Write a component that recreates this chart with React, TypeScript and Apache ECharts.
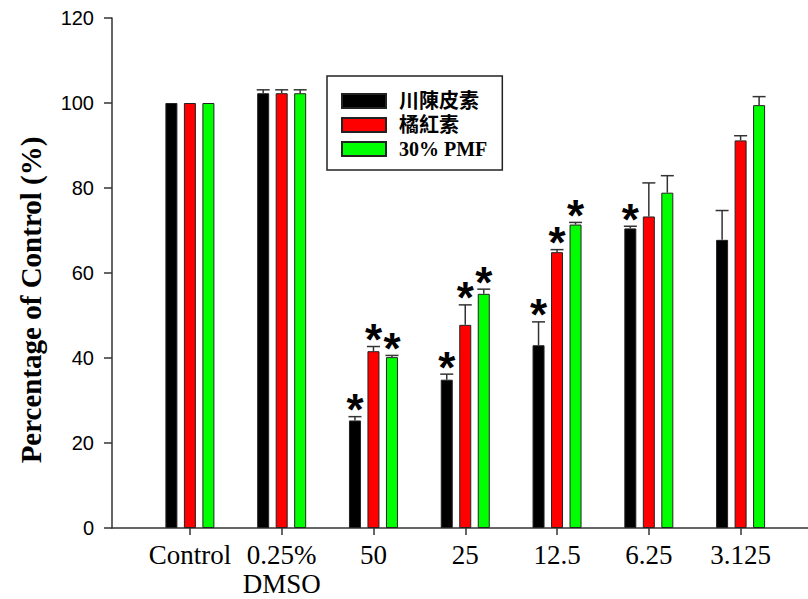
import React, { useEffect, useRef } from "react";
import * as echarts from "echarts";

const categories = ["Control", "0.25%\nDMSO", "50", "25", "12.5", "6.25", "3.125"];
const seriesNames = ["川陳皮素", "橘紅素", "30% PMF"];
const nobiletin = [100, 102.3, 25.3, 34.9, 43.0, 70.5, 67.8];
const nobiletinErr = [0, 0.8, 0.9, 1.3, 5.5, 0.5, 6.9];
const nobiletinSig = [0, 0, 1, 1, 1, 1, 0];
const tangeretin = [100, 102.3, 41.6, 47.8, 64.9, 73.3, 91.2];
const tangeretinErr = [0, 0.8, 1.1, 4.7, 0.6, 7.9, 1.1];
const tangeretinSig = [0, 0, 1, 1, 1, 0, 0];
const pmf = [100, 102.3, 40.2, 55.1, 71.4, 78.9, 99.5];
const pmfErr = [0, 0.8, 0.4, 1.1, 0.5, 4.0, 2.0];
const pmfSig = [0, 0, 1, 1, 1, 0, 0];
const yTicks = { min: 0, max: 120, interval: 20 };

const colors = ["#000000", "#ff0000", "#00ff00"];
const BAR_W = 12;
const BAR_GAP = 6.5;

export default function App() {
  const ref = useRef<HTMLDivElement>(null);
  useEffect(() => {
    if (!ref.current) return;
    const chart = echarts.init(ref.current, null, { renderer: "svg" });
    const values = [nobiletin, tangeretin, pmf];
    const errs = [nobiletinErr, tangeretinErr, pmfErr];
    const sigs = [nobiletinSig, tangeretinSig, pmfSig];
    const offsets = [-(BAR_W + BAR_GAP), 0, BAR_W + BAR_GAP];

    const barSeries = values.map((vals, k) => ({
      name: seriesNames[k],
      type: "bar",
      xAxisIndex: 0,
      yAxisIndex: 0,
      data: vals,
      barWidth: BAR_W,
      barGap: (BAR_GAP / BAR_W) * 100 + "%",
      itemStyle: { color: colors[k], borderColor: "#222", borderWidth: 1 },
      z: 2,
    }));

    const errSeries = values.map((vals, k) => ({
      name: "err" + k,
      type: "custom",
      xAxisIndex: 0,
      yAxisIndex: 0,
      z: 3,
      encode: { x: 0, y: 1 },
      data: vals.map((v, i) => [i, v, errs[k][i], sigs[k][i]]),
      renderItem: (params: any, api: any) => {
        const i = api.value(0);
        const v = api.value(1);
        const e = api.value(2);
        const s = api.value(3);
        const base = api.coord([i, v]);
        const top = api.coord([i, v + e]);
        const x = base[0] + offsets[k];
        const children: any[] = [];
        if (e > 0) {
          children.push({
            type: "line",
            shape: { x1: x, y1: base[1], x2: x, y2: top[1] },
            style: { stroke: "#333", lineWidth: 1.5 },
          });
          children.push({
            type: "line",
            shape: { x1: x - 6.5, y1: top[1], x2: x + 6.5, y2: top[1] },
            style: { stroke: "#333", lineWidth: 1.5 },
          });
        }
        if (s) {
          children.push({
            type: "text",
            x: x,
            y: top[1] - 7,
            style: {
              text: "*",
              fontSize: 44,
              fontWeight: "bold",
              fontFamily: "Liberation Sans",
              fill: "#000",
              align: "center",
              verticalAlign: "middle",
            },
          });
        }
        return { type: "group", children };
      },
    }));

    chart.setOption({
      animation: false,
      backgroundColor: "#fff",
      grid: [
        { left: 144, right: 21.5, top: 18, bottom: 71 },
        { left: 112, right: 0, top: 18, bottom: 71 },
      ],
      xAxis: [
        {
          type: "category",
          gridIndex: 0,
          data: categories,
          axisLine: { show: false },
          axisTick: { show: true, alignWithLabel: true, interval: 0, length: 7, lineStyle: { color: "#333", width: 1.5 } },
          axisLabel: {
            interval: 0,
            color: "#000",
            fontFamily: "Liberation Serif",
            fontSize: 27,
            lineHeight: 29,
            margin: 12,
          },
        },
        {
          type: "value",
          gridIndex: 1,
          min: 0,
          max: 1,
          axisLine: { show: true, lineStyle: { color: "#333", width: 1.5 } },
          axisTick: { show: false },
          axisLabel: { show: false },
          splitLine: { show: false },
        },
      ],
      yAxis: [
        {
          type: "value",
          gridIndex: 0,
          min: yTicks.min,
          max: yTicks.max,
          interval: yTicks.interval,
          show: false,
          splitLine: { show: false },
        },
        {
          type: "value",
          gridIndex: 1,
          min: yTicks.min,
          max: yTicks.max,
          interval: yTicks.interval,
          axisLine: { show: true, lineStyle: { color: "#333", width: 1.5 } },
          axisTick: { show: true, length: 8, lineStyle: { color: "#333", width: 1.5 } },
          axisLabel: { color: "#000", fontFamily: "Liberation Sans", fontSize: 20, margin: 18 },
          splitLine: { show: false },
        },
      ],
      legend: {
        data: seriesNames,
        orient: "vertical",
        left: 327,
        top: 76,
        itemWidth: 44,
        itemHeight: 14,
        itemGap: 4,
        padding: [15, 15, 11, 14],
        borderColor: "#222",
        borderWidth: 1.5,
        icon: "rect",
        selectedMode: false,
        textStyle: {
          color: "#000",
          fontFamily: '"Liberation Serif", "Noto Sans CJK TC", serif',
          fontWeight: "bold",
          fontSize: 20,
          padding: [0, 0, 0, 8],
        },
      },
      graphic: [
        {
          type: "text",
          x: 31,
          y: 300,
          rotation: Math.PI / 2,
          style: {
            text: "Percentage of Control (%)",
            fontFamily: "Liberation Serif",
            fontWeight: "bold",
            fontSize: 29,
            fill: "#000",
            align: "center",
            verticalAlign: "middle",
          },
        },
      ],
      series: [...barSeries, ...errSeries],
    });
    return () => chart.dispose();
  }, []);
  return (
    <div
      ref={ref}
      style={{ position: "fixed", left: 0, top: 0, width: 808, height: 599 }}
    />
  );
}
